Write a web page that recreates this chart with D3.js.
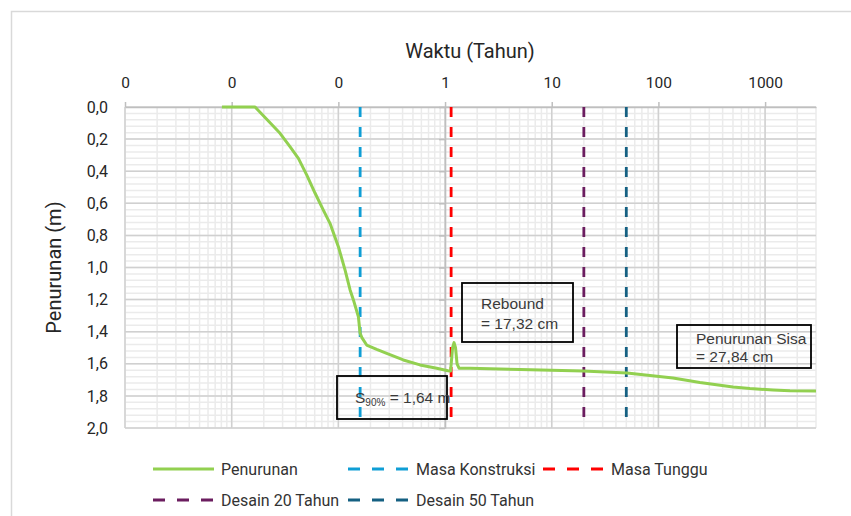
<!DOCTYPE html>
<html lang="id">
<head>
<meta charset="UTF-8">
<title>Penurunan vs Waktu</title>
<script src="https://d3js.org/d3.v7.min.js"></script>
<style>
    body { margin: 0; background: #fff; }
    svg text { font-family: Roboto, "Liberation Sans", sans-serif; }
</style>
</head>
<body>
<svg id="chart" width="851" height="516"></svg>
<script>
    // data kurva penurunan (tahun, m)
    const tahun = [0.0081, 0.01656, 0.0284, 0.0352, 0.0422, 0.0506, 0.0604, 0.0723, 0.0835, 0.1, 0.1156,
        0.1288, 0.1384, 0.1541, 0.1597, 0.1656, 0.1842, 0.2287, 0.2838, 0.406, 0.582, 0.835, 1.065,
        1.126, 1.176, 1.214, 1.254, 1.296, 1.352, 1.715, 5.05, 19.6, 50.8, 137, 245, 500, 721, 1186, 1710, 3000];
    const penurunan = [0, 0, 0.164, 0.247, 0.32, 0.424, 0.536, 0.642, 0.725, 0.87, 1.016,
        1.14, 1.202, 1.307, 1.408, 1.435, 1.483, 1.51, 1.535, 1.576, 1.607, 1.628, 1.643,
        1.645, 1.5, 1.468, 1.5, 1.6, 1.627, 1.628, 1.636, 1.645, 1.657, 1.688, 1.716, 1.745, 1.754, 1.763, 1.768, 1.769];

    // garis batas waktu
    const batasNama = ["Masa Konstruksi", "Masa Tunggu", "Desain 20 Tahun", "Desain 50 Tahun"];
    const batasTahun = [0.16, 1.14, 20, 50];
    const batasWarna = ["#0f9ed5", "#ff0000", "#6b1d5f", "#156082"];
    const batasY = [0, 1.95];

    const xTicks = [0.001, 0.01, 0.1, 1, 10, 100, 1000];
    const yTicks = [0, 0.2, 0.4, 0.6, 0.8, 1.0, 1.2, 1.4, 1.6, 1.8, 2.0];

    const svg = d3.select("#chart");
    const margin = { left: 125, right: 35, top: 107, bottom: 88 };
    const W = 851, H = 516;

    // bingkai
    svg.append("path")
        .attr("d", `M11.5,${H + 2} V11.5 H${W + 2}`)
        .attr("fill", "none")
        .attr("stroke", "#d9d9d9")
        .attr("stroke-width", 1.5);

    const x = d3.scaleLog().domain([0.001, 3000]).range([margin.left, W - margin.right]);
    const y = d3.scaleLinear().domain([0, 2]).range([margin.top, H - margin.bottom]);

    // grid minor
    const grid = svg.append("g");
    grid.selectAll(".vmin").data(x.ticks()).join("line")
        .attr("x1", d => x(d)).attr("x2", d => x(d))
        .attr("y1", y(0)).attr("y2", y(2))
        .attr("stroke", "#ebebeb").attr("stroke-width", 1.5);
    grid.selectAll(".hmin").data(d3.range(0, 2.001, 0.04)).join("line")
        .attr("x1", x.range()[0]).attr("x2", x.range()[1])
        .attr("y1", d => y(d)).attr("y2", d => y(d))
        .attr("stroke", "#ebebeb").attr("stroke-width", 1.5);
    // grid mayor
    grid.selectAll(".vmaj").data(xTicks).join("line")
        .attr("x1", d => x(d)).attr("x2", d => x(d))
        .attr("y1", y(0)).attr("y2", y(2))
        .attr("stroke", "#d0d0d0").attr("stroke-width", 1.5);
    grid.selectAll(".hmaj").data(yTicks).join("line")
        .attr("x1", x.range()[0]).attr("x2", x.range()[1])
        .attr("y1", d => y(d)).attr("y2", d => y(d))
        .attr("stroke", "#d0d0d0").attr("stroke-width", 1.5);

    // sumbu x (atas)
    const xAxis = svg.append("g")
        .attr("transform", `translate(0,${y(0)})`)
        .call(d3.axisTop(x).tickValues(xTicks).tickFormat(d3.format(".0f")).tickSizeInner(5).tickSizeOuter(0).tickPadding(14));
    xAxis.select(".domain").attr("stroke", "#bfbfbf").attr("stroke-width", 1.5);
    xAxis.selectAll(".tick line").attr("stroke", "#bfbfbf").attr("stroke-width", 1.5);
    xAxis.selectAll("text").attr("font-size", 15.5).attr("fill", "#262626");

    // sumbu y memotong di x = 1
    const yAxisLine = svg.append("g")
        .attr("transform", `translate(${x(1)},0)`)
        .call(d3.axisLeft(y).tickValues(yTicks).tickFormat("").tickSizeInner(6).tickSizeOuter(0));
    yAxisLine.select(".domain").attr("stroke", "#bfbfbf").attr("stroke-width", 1.5);
    yAxisLine.selectAll(".tick line").attr("stroke", "#bfbfbf").attr("stroke-width", 1.5);

    const yLabels = svg.append("g")
        .attr("transform", `translate(${margin.left},0)`)
        .call(d3.axisLeft(y).tickValues(yTicks).tickFormat(d => d3.format(".1f")(d).replace(".", ",")).tickSize(0).tickPadding(17));
    yLabels.select(".domain").remove();
    yLabels.selectAll("text").attr("font-size", 16).attr("fill", "#262626");

    // judul sumbu
    svg.append("text")
        .attr("x", 470).attr("y", 58)
        .attr("text-anchor", "middle").attr("font-size", 20).attr("fill", "#262626")
        .text("Waktu (Tahun)");
    svg.append("text")
        .attr("transform", `translate(61,${(y(0) + y(2)) / 2}) rotate(-90)`)
        .attr("text-anchor", "middle").attr("font-size", 20).attr("fill", "#262626")
        .text("Penurunan (m)");

    // garis vertikal
    const dashG = svg.append("g");
    batasTahun.forEach((t, i) => {
        dashG.append("line")
            .attr("x1", x(t)).attr("x2", x(t))
            .attr("y1", y(batasY[0])).attr("y2", y(batasY[1]))
            .attr("stroke", batasWarna[i]).attr("stroke-width", 2.8)
            .attr("stroke-dasharray", "10,10");
    });

    // kurva penurunan
    const data = tahun.map((t, i) => ({ t: t, s: penurunan[i] }));
    svg.append("path")
        .datum(data)
        .attr("fill", "none")
        .attr("stroke", "#92d050")
        .attr("stroke-width", 3)
        .attr("stroke-linejoin", "round")
        .attr("d", d3.line().x(d => x(d.t)).y(d => y(d.s)));

    // kotak anotasi
    const boxFont = "'Liberation Sans', Arial, sans-serif";
    function kotak(x0, y0, w, h) {
        svg.append("rect").attr("x", x0).attr("y", y0).attr("width", w).attr("height", h)
            .attr("fill", "none").attr("stroke", "#000").attr("stroke-width", 1.8);
    }
    function teks(tx, ty, isi) {
        return svg.append("text").attr("x", tx).attr("y", ty).attr("font-size", 15.5).attr("fill", "#3a3a3a")
            .style("font-family", boxFont).text(isi);
    }
    kotak(462, 283, 111, 59);
    teks(481, 309, "Rebound");
    teks(481, 329, "= 17,32 cm");

    kotak(677, 325, 134, 43);
    teks(696, 344, "Penurunan Sisa");
    teks(696, 362, "= 27,84 cm");

    kotak(337, 376, 110, 43);
    const s90 = teks(355, 403, "");
    s90.append("tspan").text("S");
    s90.append("tspan").attr("font-size", 10).attr("dy", 3).text("90%");
    s90.append("tspan").attr("dy", -3).text(" = 1,64 m");

    // legenda
    const legend = [
        { nama: "Penurunan", warna: "#92d050", dash: null, lx: 153, ly: 469 },
        { nama: batasNama[0], warna: batasWarna[0], dash: "12,12", lx: 348, ly: 469 },
        { nama: batasNama[1], warna: batasWarna[1], dash: "12,12", lx: 543, ly: 469 },
        { nama: batasNama[2], warna: batasWarna[2], dash: "12,12", lx: 153, ly: 500 },
        { nama: batasNama[3], warna: batasWarna[3], dash: "12,12", lx: 348, ly: 500 }
    ];
    const lg = svg.append("g").selectAll("g").data(legend).join("g")
        .attr("transform", d => `translate(${d.lx},${d.ly})`);
    lg.append("line").attr("x1", 0).attr("x2", 61).attr("y1", 0).attr("y2", 0)
        .attr("stroke", d => d.warna).attr("stroke-width", 3)
        .attr("stroke-dasharray", d => d.dash);
    lg.append("text").attr("x", 68).attr("y", 6).attr("font-size", 16).attr("fill", "#333")
        .text(d => d.nama);
</script>
</body>
</html>
